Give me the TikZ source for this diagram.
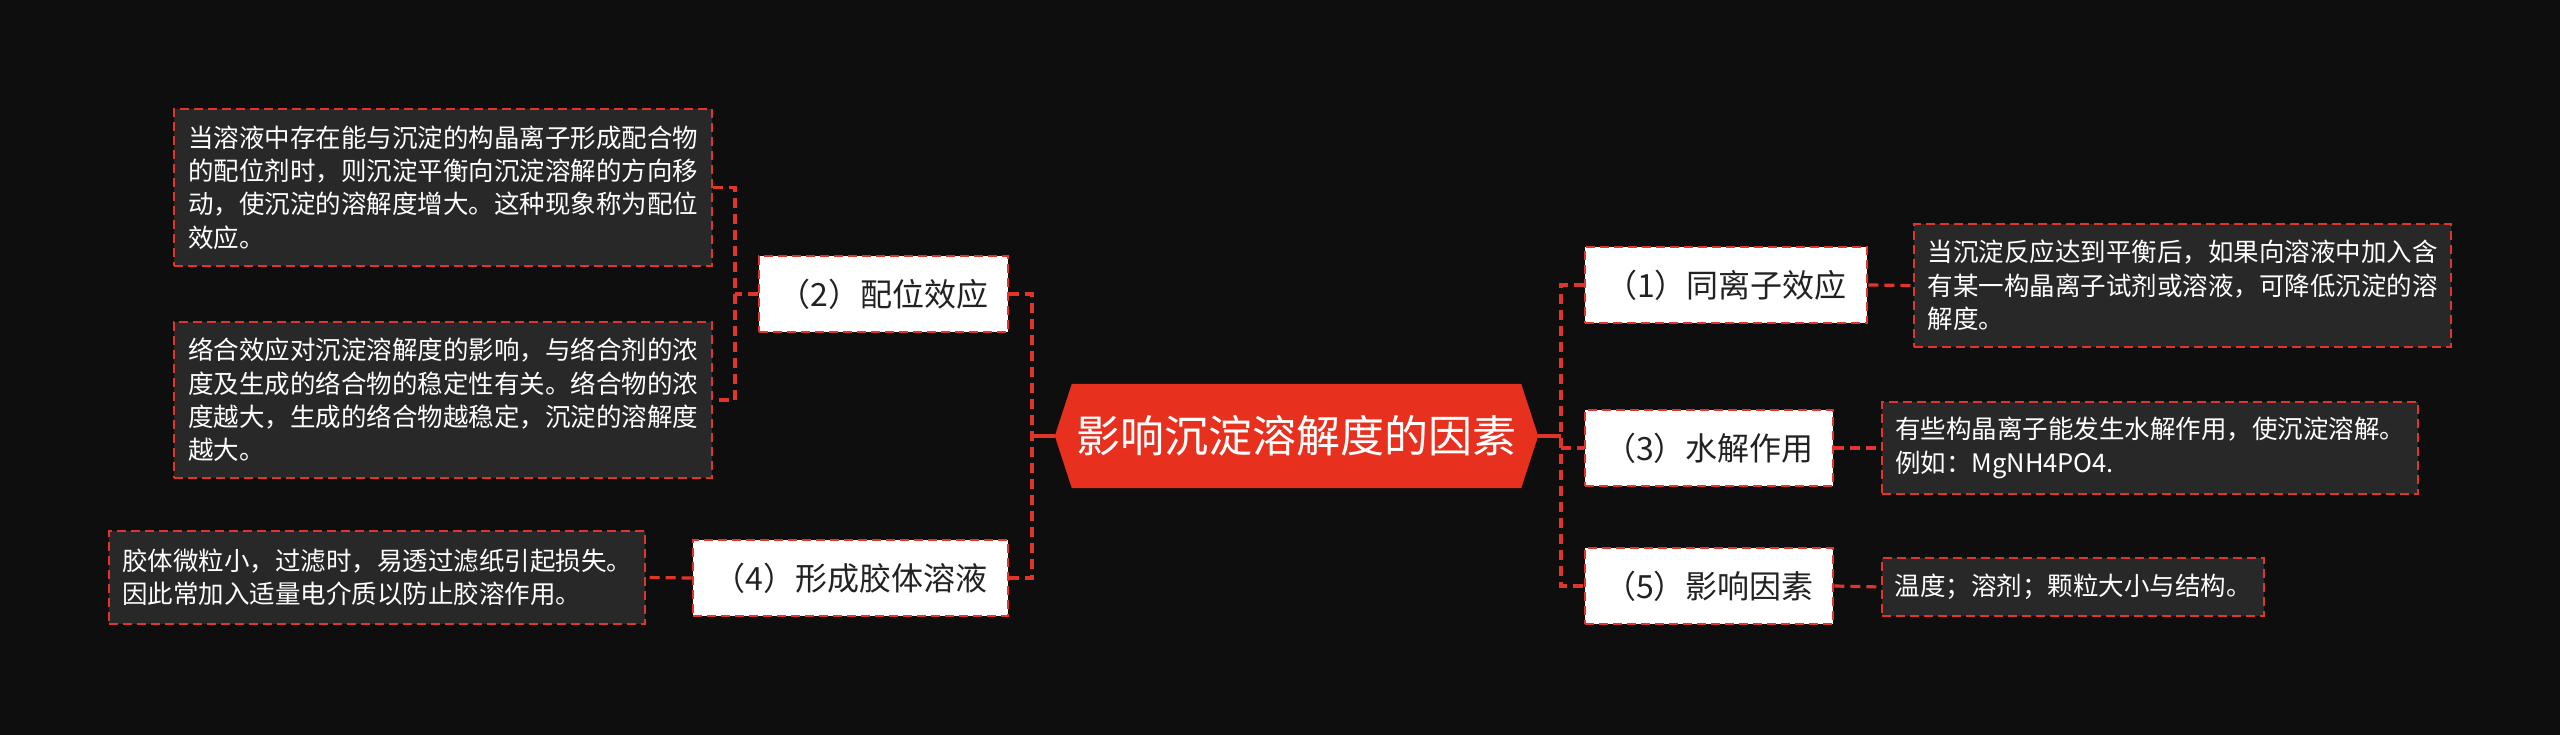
\documentclass[tikz,border=0pt]{standalone}
\usepackage{fontspec}
\setmainfont{Noto Sans CJK SC}
\definecolor{bg}{HTML}{0E0E0E}
\definecolor{boxbg}{HTML}{282828}
\definecolor{accent}{HTML}{E2352A}
\definecolor{hexred}{HTML}{E8301E}
\definecolor{ink}{HTML}{222222}
\pgfdeclarelayer{bgl}
\pgfsetlayers{bgl,main}
\begin{document}
\begin{tikzpicture}[x=1pt,y=-1pt,
  conn/.style={draw=accent, line width=3.2pt, dash pattern=on 10pt off 6pt},
  solidconn/.style={draw=accent, line width=3.2pt},
  topic/.style={draw=accent, line width=2.8pt, dash pattern=on 9pt off 5pt, fill=white, text=ink,
    font=\fontsize{32}{38}\selectfont, inner sep=0pt, minimum height=76pt},
  desc/.style={draw=accent, line width=2.8pt, dash pattern=on 9pt off 5pt, fill=boxbg, text=white,
    font=\fontsize{25.5}{33.3}\selectfont, align=left, inner sep=0pt},
]
\useasboundingbox (0,0) rectangle (2560,735);

% central topic
\node[text=white, font=\fontsize{44}{50}\selectfont, minimum width=483pt, minimum height=104pt, inner sep=0pt]
  (c) at (1296.5,436) {影响沉淀溶解度的因素};
\begin{pgfonlayer}{bgl}
  \fill[bg] (0,0) rectangle (2560,735);
  \fill[hexred] (c.west) -- ([xshift=17pt]c.north west) -- ([xshift=-17pt]c.north east)
    -- (c.east) -- ([xshift=-17pt]c.south east) -- ([xshift=17pt]c.south west) -- cycle;
\end{pgfonlayer}

% topics
\node[topic, minimum width=282pt] (n1) at (1726,285) {（1）同离子效应};
\node[topic, minimum width=249pt] (n2) at (883.5,294) {（2）配位效应};
\node[topic, minimum width=248pt] (n3) at (1709,448) {（3）水解作用};
\node[topic, minimum width=315pt] (n4) at (850.5,578) {（4）形成胶体溶液};
\node[topic, minimum width=248pt] (n5) at (1709,586) {（5）影响因素};

% descriptions
\node[desc, text width=510pt, minimum width=538pt, minimum height=157pt] (A) at (443,187.5)
  {当溶液中存在能与沉淀的构晶离子形成配合物\\的配位剂时，则沉淀平衡向沉淀溶解的方向移\\动，使沉淀的溶解度增大。这种现象称为配位\\效应。};
\node[desc, text width=510pt, minimum width=538pt, minimum height=156pt] (B) at (443,400)
  {络合效应对沉淀溶解度的影响，与络合剂的浓\\度及生成的络合物的稳定性有关。络合物的浓\\度越大，生成的络合物越稳定，沉淀的溶解度\\越大。};
\node[desc, text width=510pt, minimum width=536pt, minimum height=93pt] (C) at (377,577.5)
  {胶体微粒小，过滤时，易透过滤纸引起损失。\\因此常加入适量电介质以防止胶溶作用。};
\node[desc, text width=510pt, minimum width=537pt, minimum height=123pt] (D) at (2182.5,285.5)
  {当沉淀反应达到平衡后，如果向溶液中加入含\\有某一构晶离子试剂或溶液，可降低沉淀的溶\\解度。};
\node[desc, text width=510pt, minimum width=536pt, minimum height=92pt] (E) at (2150,448)
  {有些构晶离子能发生水解作用，使沉淀溶解。\\例如：MgNH4PO4.};
\node[desc, text width=357pt, minimum width=382pt, minimum height=58pt] (F) at (2073,587)
  {温度；溶剂；颗粒大小与结构。};

% left connectors
\coordinate (jl) at (1032,436);
\coordinate (jl2) at (735,294);
\draw[solidconn] (c.west) -- (jl);
\draw[conn] (n2.east) -| (jl) |- (n4.east);
\draw[conn] (A.east) -| (jl2) |- (B.east);
\draw[conn] (n2.west) -- (jl2);
\draw[conn] (n4.west) -- (C.east);

% right connectors
\coordinate (jr) at (1561,436);
\draw[solidconn] (c.east) -- (jr);
\draw[conn] (n1.west) -| (jr) |- (n5.west);
\draw[conn] (jr |- n3.west) -- (n3.west);
\draw[conn] (n1.east) -- (D.west);
\draw[conn] (n3.east) -- (E.west);
\draw[conn] (n5.east) -- (F.west);
\end{tikzpicture}
\end{document}
